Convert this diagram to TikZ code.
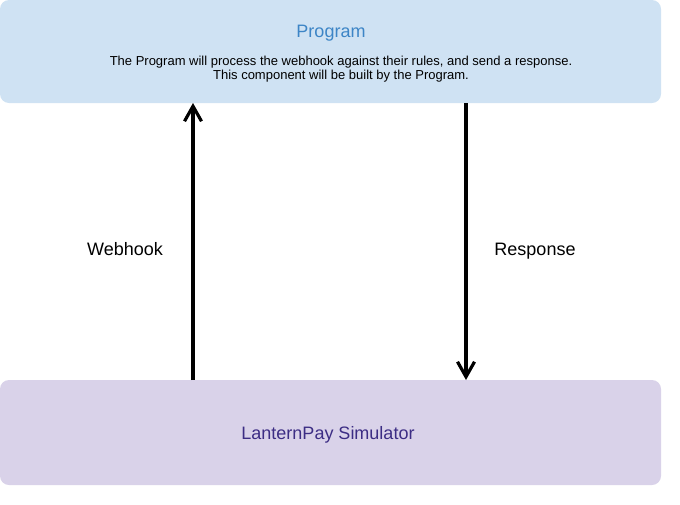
\documentclass[tikz,border=0pt]{standalone}
\usepackage{fontspec}
\setmainfont{Liberation Sans}
\usetikzlibrary{arrows.meta}
\definecolor{progfill}{HTML}{CFE2F3}
\definecolor{progtext}{HTML}{3D85C6}
\definecolor{simfill}{HTML}{D9D2E9}
\definecolor{simtext}{HTML}{3C2D84}
\tikzset{
  boxfill/.style={rounded corners=9pt},
  flow/.style={line width=3.2pt, -{Straight Barb[length=15pt, width=17pt, line width=3.2pt]}},
  lbl/.style={font=\fontsize{18}{21}\selectfont, text=black, inner sep=0pt, anchor=base}
}
\begin{document}
\begin{tikzpicture}[x=1pt,y=-1pt]
\useasboundingbox (0,0) rectangle (680,504);
\fill[progfill, boxfill] (0,0) rectangle (661,103);
\node[inner sep=0pt, anchor=base, text=progtext, font=\fontsize{18}{21}\selectfont] (prog) at (331,37) {Program};
\node[inner sep=0pt, align=center, font=\fontsize{13}{14}\selectfont] (progdesc) at (341,69) {The Program will process the webhook against their rules, and send a response.\\This component will be built by the Program.};
\fill[simfill, boxfill] (0,380) rectangle (661,485);
\node[inner sep=0pt, anchor=base, text=simtext, font=\fontsize{18}{21}\selectfont] (sim) at (328,439) {LanternPay Simulator};
\coordinate (wb) at (193,380);
\coordinate (wt) at (193,103);
\coordinate (rt) at (466,103);
\coordinate (rb) at (466,380);
\draw[flow] (wb) -- (wt);
\draw[flow] (rt) -- (rb);
\node[lbl] (webhook) at (125,255) {Webhook};
\node[lbl] (response) at (535,255) {Response};
\end{tikzpicture}
\end{document}
